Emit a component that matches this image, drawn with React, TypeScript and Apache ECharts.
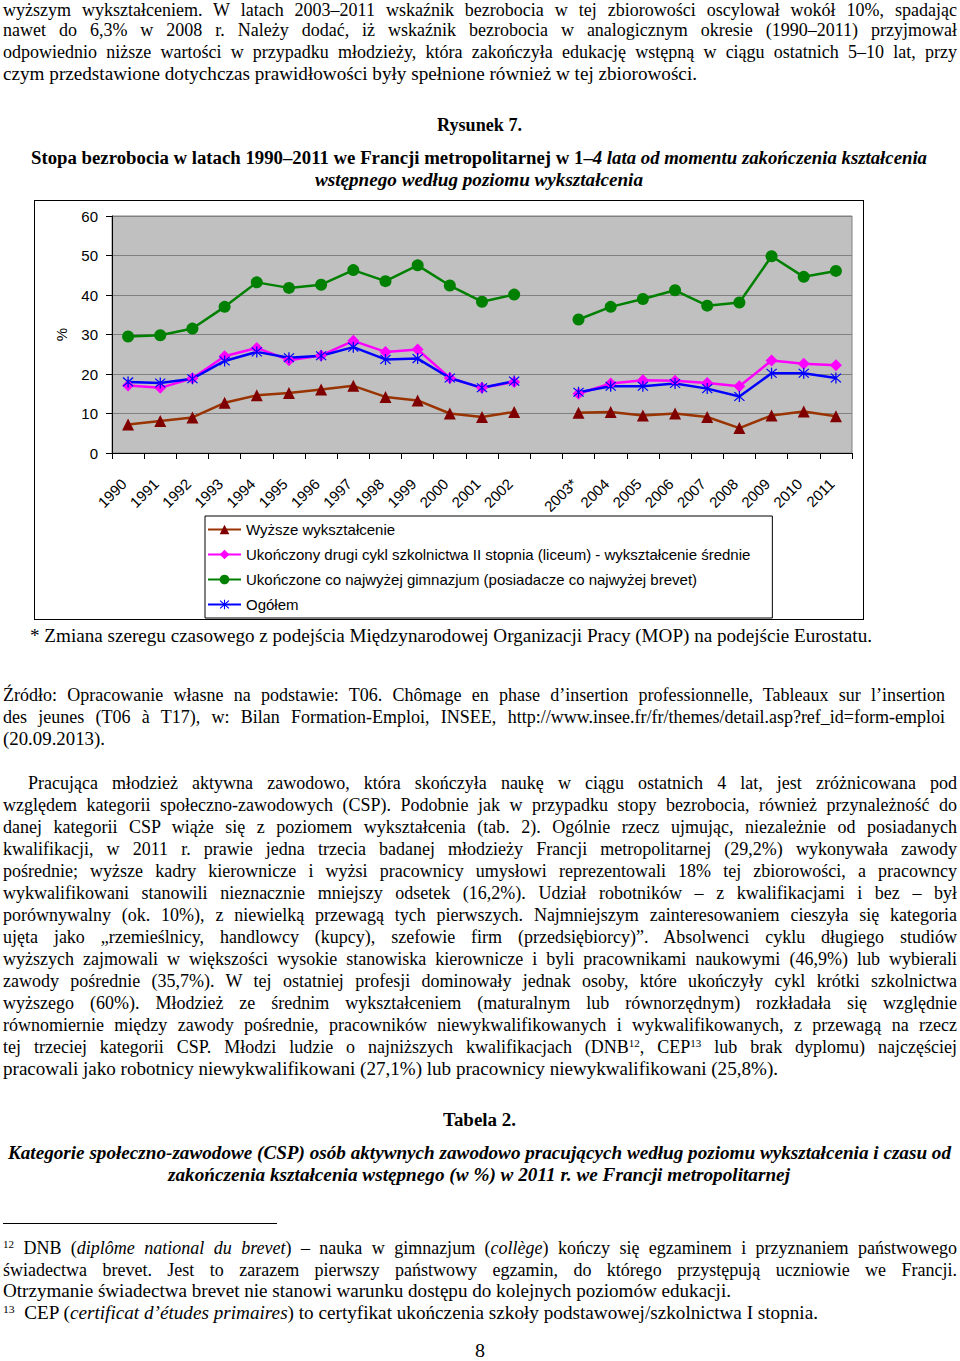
import React, { useEffect, useLayoutEffect, useRef } from "react";
import * as echarts from "echarts";

const categories = ["1990", "1991", "1992", "1993", "1994", "1995", "1996", "1997", "1998", "1999", "2000", "2001", "2002", "", "2003*", "2004", "2005", "2006", "2007", "2008", "2009", "2010", "2011"];
const seriesNames = [
  "Wyższe wykształcenie",
  "Ukończony drugi cykl szkolnictwa II stopnia (liceum) - wykształcenie średnie",
  "Ukończone co najwyżej gimnazjum (posiadacze co najwyżej brevet)",
  "Ogółem",
];
const higherEdu = [7.2, 8.1, 9.0, 12.7, 14.6, 15.2, 16.1, 17.0, 14.2, 13.3, 10.0, 9.1, 10.4, null, 10.2, 10.4, 9.5, 10.0, 9.1, 6.3, 9.5, 10.5, 9.3];
const secondaryEdu = [17.1, 16.5, 18.9, 24.5, 26.6, 23.5, 24.7, 28.4, 25.6, 26.2, 19.0, 16.5, 18.0, null, 15.0, 17.6, 18.4, 18.3, 17.7, 16.9, 23.4, 22.6, 22.2];
const lowerEdu = [29.5, 29.8, 31.5, 37.0, 43.2, 41.8, 42.6, 46.3, 43.5, 47.5, 42.4, 38.3, 40.1, null, 33.8, 37.0, 39.0, 41.2, 37.3, 38.1, 49.8, 44.6, 46.1];
const totalAll = [18.0, 17.7, 18.8, 23.3, 25.6, 24.1, 24.6, 26.8, 23.7, 23.9, 19.0, 16.5, 18.2, null, 15.4, 16.9, 16.9, 17.6, 16.3, 14.3, 20.2, 20.2, 19.0];
const yTicks = { min: 0, max: 60, interval: 10 };

const STAR =
  "path://M-0.5,-5 L0.5,-5 L0.5,5 L-0.5,5 Z M-4.35,-3.65 L-3.65,-4.35 L4.35,3.65 L3.65,4.35 Z M-4.35,3.65 L3.65,-4.35 L4.35,-3.65 L-3.65,4.35 Z";

type LineProps = {
  x0: number;
  x1: number;
  y: number;
  lh?: number;
  justify?: boolean;
  bold?: boolean;
  italic?: boolean;
  children: React.ReactNode;
};

function Line({ x0, x1, y, lh = 22, justify, bold, italic, children }: LineProps) {
  const ref = useRef<HTMLDivElement>(null);
  const spanRef = useRef<HTMLSpanElement>(null);
  useLayoutEffect(() => {
    const el = ref.current;
    const sp = spanRef.current;
    if (!el || !sp) return;
    const natural = sp.getBoundingClientRect().width;
    const target = x1 - x0;
    if (justify && natural <= target) {
      el.style.width = target + "px";
      el.style.whiteSpace = "normal";
      el.style.textAlign = "justify";
      (el.style as any).textAlignLast = "justify";
    } else if (natural > 0) {
      el.style.transform = `scaleX(${target / natural})`;
    }
  }, []);
  return (
    <div
      ref={ref}
      style={{
        position: "absolute",
        left: x0,
        top: y - lh / 2,
        height: lh,
        lineHeight: lh + "px",
        whiteSpace: "nowrap",
        transformOrigin: "0 0",
        fontWeight: bold ? "bold" : "normal",
        fontStyle: italic ? "italic" : "normal",
      }}
    >
      <span ref={spanRef}>{children}</span>
    </div>
  );
}

const Sup = ({ children }: { children: React.ReactNode }) => (
  <span style={{ fontSize: 11, position: "relative", top: -6 }}>{children}</span>
);

function Chart() {
  const ref = useRef<HTMLDivElement>(null);
  useEffect(() => {
    if (!ref.current) return;
    const chart = echarts.init(ref.current, undefined, { renderer: "svg" });
    const font = "'Liberation Sans', Arial, sans-serif";
    const mk = (name: string, data: (number | null)[], lineColor: string, itemColor: string, symbol: string, size: number) => ({
      name,
      type: "line",
      data,
      connectNulls: false,
      symbol,
      symbolSize: size,
      lineStyle: { color: lineColor, width: 2.5 },
      itemStyle: { color: itemColor, borderWidth: 0 },
      emphasis: { disabled: true },
    });
    chart.setOption({
      animation: false,
      backgroundColor: "#ffffff",
      textStyle: { fontFamily: font },
      grid: {
        left: 77,
        top: 15,
        width: 740,
        height: 237,
        show: true,
        backgroundColor: "#c0c0c0",
        borderColor: "#808080",
        borderWidth: 1,
      },
      legend: {
        left: 170,
        top: 315,
        orient: "vertical",
        selectedMode: false,
        data: seriesNames,
        itemWidth: 33,
        itemHeight: 12,
        itemGap: 10,
        padding: [6, 22, 6, 2],
        borderColor: "#000",
        borderWidth: 1,
        backgroundColor: "#fff",
        textStyle: { fontSize: 15, lineHeight: 15, color: "#000", fontFamily: font },
      },
      xAxis: {
        type: "category",
        data: categories,
        boundaryGap: true,
        axisLine: { lineStyle: { color: "#000", width: 1 } },
        axisTick: { show: true, length: 6, lineStyle: { color: "#000" } },
        axisLabel: {
          interval: 0,
          rotate: 45,
          margin: 24,
          padding: [0, 6, 12, 0],
          fontSize: 15,
          color: "#000",
          fontFamily: font,
        },
        splitLine: { show: false },
      },
      yAxis: {
        type: "value",
        min: yTicks.min,
        max: yTicks.max,
        interval: yTicks.interval,
        name: "%",
        nameLocation: "middle",
        nameGap: 43,
        nameRotate: 90,
        nameTextStyle: { fontSize: 15, color: "#000", fontFamily: font },
        axisLine: { show: true, lineStyle: { color: "#000", width: 1 } },
        axisTick: { show: true, length: 6, lineStyle: { color: "#000" } },
        axisLabel: { margin: 14, fontSize: 15, color: "#000", fontFamily: font },
        splitLine: { show: true, lineStyle: { color: "#808080", width: 1 } },
      },
      series: [
        mk(seriesNames[0], higherEdu, "#993300", "#800000", "triangle", 12),
        mk(seriesNames[1], secondaryEdu, "#ff00ff", "#ff00ff", "diamond", 12),
        mk(seriesNames[2], lowerEdu, "#008000", "#008000", "circle", 12),
        mk(seriesNames[3], totalAll, "#0000ff", "#0000ff", STAR, 11),
      ],
    });
    return () => chart.dispose();
  }, []);
  return (
    <div
      ref={ref}
      style={{
        position: "absolute",
        left: 34,
        top: 200,
        width: 828,
        height: 418,
        border: "1px solid #000",
      }}
    />
  );
}

export default function App() {
  const W0 = 3;
  const W1 = 957;
  const para = [
    "względem kategorii społeczno-zawodowych (CSP). Podobnie jak w przypadku stopy bezrobocia, również przynależność do",
    "danej kategorii CSP wiąże się z poziomem wykształcenia (tab. 2). Ogólnie rzecz ujmując, niezależnie od posiadanych",
    "kwalifikacji, w 2011 r. prawie jedna trzecia badanej młodzieży Francji metropolitarnej (29,2%) wykonywała zawody",
    "pośrednie; wyższe kadry kierownicze i wyżsi pracownicy umysłowi reprezentowali 18% tej zbiorowości, a pracowncy",
    "wykwalifikowani stanowili nieznacznie mniejszy odsetek (16,2%). Udział robotników – z kwalifikacjami i bez – był",
    "porównywalny (ok. 10%), z niewielką przewagą tych pierwszych. Najmniejszym zainteresowaniem cieszyła się kategoria",
    "ujęta jako „rzemieślnicy, handlowcy (kupcy), szefowie firm (przedsiębiorcy)”. Absolwenci cyklu długiego studiów",
    "wyższych zajmowali w większości wysokie stanowiska kierownicze i byli pracownikami naukowymi (46,9%) lub wybierali",
    "zawody pośrednie (35,7%). W tej ostatniej profesji dominowały jednak osoby, które ukończyły cykl krótki szkolnictwa",
    "wyższego (60%). Młodzież ze średnim wykształceniem (maturalnym lub równorzędnym) rozkładała się względnie",
    "równomiernie między zawody pośrednie, pracowników niewykwalifikowanych i wykwalifikowanych, z przewagą na rzecz",
  ];
  return (
    <div
      style={{
        position: "absolute",
        left: 0,
        top: 0,
        width: 960,
        height: 1361,
        overflow: "hidden",
        background: "#fff",
        color: "#000",
        fontFamily: "'Liberation Serif', 'Times New Roman', serif",
        fontSize: 18,
      }}
    >
      <Line x0={W0} x1={W1} y={10} lh={16} justify>
        wyższym wykształceniem. W latach 2003–2011 wskaźnik bezrobocia w tej zbiorowości oscylował wokół 10%, spadając
      </Line>
      <Line x0={W0} x1={W1} y={30} justify>
        nawet do 6,3% w 2008 r. Należy dodać, iż wskaźnik bezrobocia w analogicznym okresie (1990–2011) przyjmował
      </Line>
      <Line x0={W0} x1={W1} y={52} justify>
        odpowiednio niższe wartości w przypadku młodzieży, która zakończyła edukację wstępną w ciągu ostatnich 5–10 lat, przy
      </Line>
      <Line x0={W0} x1={697} y={74}>
        czym przedstawione dotychczas prawidłowości były spełnione również w tej zbiorowości.
      </Line>

      <Line x0={437} x1={522} y={125} bold>
        Rysunek 7.
      </Line>
      <Line x0={31} x1={927} y={158} bold>
        Stopa bezrobocia w latach 1990–2011 we Francji metropolitarnej w 1–<i>4 lata od momentu zakończenia kształcenia</i>
      </Line>
      <Line x0={315} x1={643} y={180} bold italic>
        wstępnego według poziomu wykształcenia
      </Line>

      <Chart />

      <Line x0={30} x1={872} y={636}>
        * Zmiana szeregu czasowego z podejścia Międzynarodowej Organizacji Pracy (MOP) na podejście Eurostatu.
      </Line>

      <Line x0={W0} x1={945} y={695} justify>
        Źródło: Opracowanie własne na podstawie: T06. Chômage en phase d’insertion professionnelle, Tableaux sur l’insertion
      </Line>
      <Line x0={W0} x1={945} y={717} justify>
        des jeunes (T06 à T17), w: Bilan Formation-Emploi, INSEE, http://www.insee.fr/fr/themes/detail.asp?ref_id=form-emploi
      </Line>
      <Line x0={W0} x1={105} y={739}>
        (20.09.2013).
      </Line>

      <Line x0={28} x1={W1} y={783} justify>
        Pracująca młodzież aktywna zawodowo, która skończyła naukę w ciągu ostatnich 4 lat, jest zróżnicowana pod
      </Line>
      {para.map((t, i) => (
        <Line key={i} x0={W0} x1={W1} y={805 + 22 * i} justify>
          {t}
        </Line>
      ))}
      <Line x0={W0} x1={W1} y={1047} justify>
        tej trzeciej kategorii CSP. Młodzi ludzie o najniższych kwalifikacjach (DNB<Sup>12</Sup>, CEP<Sup>13</Sup> lub brak dyplomu) najczęściej
      </Line>
      <Line x0={W0} x1={778} y={1069}>
        pracowali jako robotnicy niewykwalifikowani (27,1%) lub pracownicy niewykwalifikowani (25,8%).
      </Line>

      <Line x0={443} x1={516} y={1120} bold>
        Tabela 2.
      </Line>
      <Line x0={8} x1={951} y={1153} bold italic>
        Kategorie społeczno-zawodowe (CSP) osób aktywnych zawodowo pracujących według poziomu wykształcenia i czasu od
      </Line>
      <Line x0={168} x1={790} y={1175} bold italic>
        zakończenia kształcenia wstępnego (w %) w 2011 r. we Francji metropolitarnej
      </Line>

      <div style={{ position: "absolute", left: 3, top: 1223, width: 274, height: 1, background: "#000" }} />

      <Line x0={W0} x1={W1} y={1248} justify>
        <Sup>12</Sup> DNB (<i>diplôme national du brevet</i>) – nauka w gimnazjum (<i>collège</i>) kończy się egzaminem i przyznaniem państwowego
      </Line>
      <Line x0={W0} x1={W1} y={1270} justify>
        świadectwa brevet. Jest to zarazem pierwszy państwowy egzamin, do którego przystępują uczniowie we Francji.
      </Line>
      <Line x0={W0} x1={731} y={1291}>
        Otrzymanie świadectwa brevet nie stanowi warunku dostępu do kolejnych poziomów edukacji.
      </Line>
      <Line x0={W0} x1={818} y={1313}>
        <Sup>13</Sup>&nbsp; CEP (<i>certificat d’études primaires</i>) to certyfikat ukończenia szkoły podstawowej/szkolnictwa I stopnia.
      </Line>

      <Line x0={475} x1={485} y={1351}>
        8
      </Line>
    </div>
  );
}
